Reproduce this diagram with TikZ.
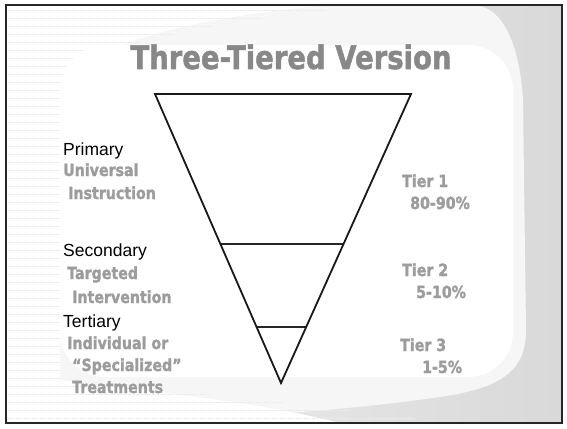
\documentclass[tikz,border=0pt]{standalone}
\usepackage{fontspec}
\usepackage{graphicx}
\setmainfont{Liberation Sans}
\newfontfamily\heavy[BoldFeatures={FakeBold=1.6}]{DejaVu Sans}
\usetikzlibrary{calc}
\definecolor{titlegray}{HTML}{888888}
\definecolor{labgray}{HTML}{9C9C9C}
\newcommand{\tallbox}[1]{\scalebox{1}[1.18]{#1}}
\tikzset{
  blk/.style={anchor=base west, inner sep=0pt, font=\fontsize{17.5}{20}\selectfont, text=black},
  gry/.style={anchor=base west, inner sep=0pt, font=\heavy\bfseries\fontsize{14.2}{16}\selectfont, text=labgray},
  ttl/.style={anchor=base, inner sep=0pt, font=\heavy\bfseries\fontsize{27.5}{30}\selectfont, text=titlegray},
  tri/.style={line width=1.8pt, black!90, line join=miter},
  tierline/.style={line width=1.6pt, black!85},
  scanline/.style={gray!16, line width=0.5pt, dash pattern=on 4pt off 1pt on 2pt off 1pt},
  frame/.style={draw=black!85, line width=1.4pt}
}
\begin{document}
\begin{tikzpicture}[x=1pt,y=-1pt]
\useasboundingbox (0,0) rectangle (567,428);
% background
\shade[left color=gray!10, right color=gray!30] (6,5) rectangle (562,423);
\fill[gray!7] (6,5) -- (472,5) .. controls (505,5) and (520,50) .. (523,100) -- (526,330)
  .. controls (526,372) and (500,388) .. (440,397) .. controls (350,410) and (250,416) .. (150,423) -- (6,423) -- cycle;
\fill[white] (6,5) -- (330,5) .. controls (220,15) and (110,35) .. (60,80) -- (60,380)
  .. controls (150,392) and (250,400) .. (340,423) -- (6,423) -- cycle;
\begin{scope}
  \clip (6,5) -- (380,5) .. controls (240,18) and (110,38) .. (60,80) -- (60,380)
  .. controls (180,392) and (320,405) .. (450,423) -- (6,423) -- cycle;
  \foreach \yy in {10,18,...,418} \draw[scanline] (8,\yy) -- (450,\yy);
\end{scope}
\fill[white, rounded corners=45pt] (60,45) rectangle (513,377);
\draw[frame] (6,5) rectangle (562,423);
% title
\node[ttl] (title) at (291,69) {\tallbox{Three-Tiered Version}};
% triangle
\coordinate (TL) at (155,94);
\coordinate (TR) at (411,94);
\coordinate (A) at (281,383);
\coordinate (S1) at ($(TL)!0.519!(A)$);
\coordinate (S2) at ($(TR)!0.519!(A)$);
\coordinate (T1) at ($(TL)!0.806!(A)$);
\coordinate (T2) at ($(TR)!0.806!(A)$);
\draw[tierline] (S1) -- (S2);
\draw[tierline] (T1) -- (T2);
\draw[tri] (TL) -- (TR) -- (A) -- cycle;
% left labels
\node[blk] (prim) at (63,155) {Primary};
\node[gry] (univ) at (63,176) {\tallbox{Universal}};
\node[gry] (instr) at (68,199) {\tallbox{Instruction}};
\node[blk] (sec) at (63,256) {Secondary};
\node[gry] (targ) at (67,279) {\tallbox{Targeted}};
\node[gry] (interv) at (72,303) {\tallbox{Intervention}};
\node[blk] (tert) at (63,327) {Tertiary};
\node[gry] (indiv) at (67,349) {\tallbox{Individual or}};
\node[gry] (spec) at (72,371) {\tallbox{“Specialized”}};
\node[gry] (treat) at (72,393) {\tallbox{Treatments}};
% right labels
\node[gry] (tier1) at (402,187) {\tallbox{Tier 1}};
\node[gry] (pct1) at (410,209) {\tallbox{80-90\%}};
\node[gry] (tier2) at (402,276) {\tallbox{Tier 2}};
\node[gry] (pct2) at (416,298) {\tallbox{5-10\%}};
\node[gry] (tier3) at (400,351) {\tallbox{Tier 3}};
\node[gry] (pct3) at (422,373) {\tallbox{1-5\%}};
\end{tikzpicture}
\end{document}
